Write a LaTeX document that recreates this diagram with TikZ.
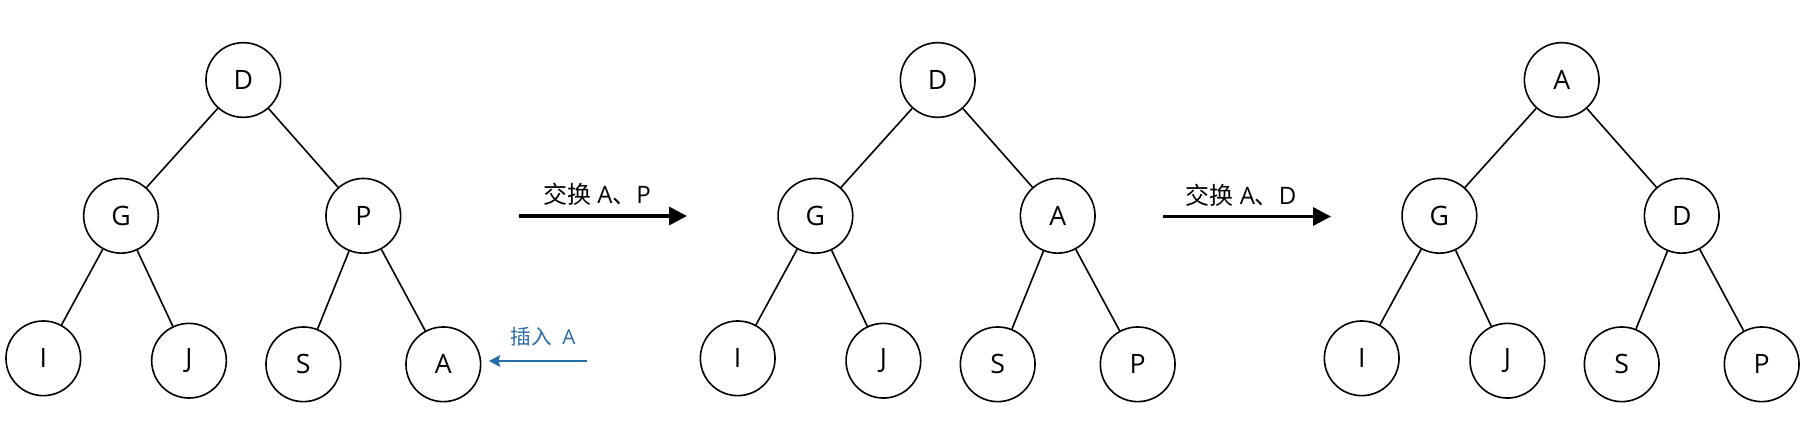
\documentclass[tikz,border=0pt]{standalone}
\usepackage{fontspec}
\setmainfont{Open Sans}
\newfontfamily\cjk{Noto Sans CJK SC}
\usetikzlibrary{arrows.meta}
\definecolor{insblue}{RGB}{40,108,168}
\tikzset{
  tnode/.style={circle,draw,line width=1.2pt,minimum size=56pt,inner sep=0pt,
    font=\fontsize{20}{20}\selectfont},
  tedge/.style={line width=1.2pt},
  steparrow/.style={line width=2.5pt,-{Triangle[length=13.5pt,width=13.5pt]}},
  steplabel/.style={font=\fontsize{18}{20}\selectfont},
  inslabel/.style={text=insblue,font=\fontsize{15.5}{18}\selectfont},
  insarrow/.style={draw=insblue,line width=1pt,-{Stealth[length=8.5pt,width=9pt,inset=1.5pt]}},
}
\newcommand\heaptree[9]{%
  \begin{scope}[shift={(#2,0)}]
    \node[tnode] (#1r)  at (243.3,80)    {#3};
    \node[tnode] (#1l)  at (121,215.8)   {#4};
    \node[tnode] (#1t)  at (363.3,215.8) {#5};
    \node[tnode] (#1ll) at (43.3,358.3)  {#6};
    \node[tnode] (#1lr) at (189,360.7)   {#7};
    \node[tnode] (#1tl) at (303.3,364.3) {#8};
    \node[tnode] (#1tr) at (443.3,364.3) {#9};
    \draw[tedge] (#1r) -- (#1l);
    \draw[tedge] (#1r) -- (#1t);
    \draw[tedge] (#1l) -- (#1ll);
    \draw[tedge] (#1l) -- (#1lr);
    \draw[tedge] (#1t) -- (#1tl);
    \draw[tedge] (#1t) -- (#1tr);
  \end{scope}}
\begin{document}
\begin{tikzpicture}[x=0.75pt,y=-0.75pt]
  \useasboundingbox (0,0) rectangle (1808,436);
  \heaptree{a}{0}{D}{G}{P}{I}{J}{S}{A}
  \heaptree{b}{694.4}{D}{G}{A}{I}{J}{S}{P}
  \heaptree{c}{1318.4}{A}{G}{D}{I}{J}{S}{P}
  % step arrows
  \coordinate (s1a) at (519,216);
  \coordinate (s1b) at (687,216);
  \draw[steparrow] (s1a) -- (s1b);
  \node[steplabel] (l1) at (597,194) {{\cjk 交换} A{\cjk 、}P};
  \coordinate (s2a) at (1163,216.5);
  \coordinate (s2b) at (1331,216.5);
  \draw[steparrow] (s2a) -- (s2b);
  \node[steplabel] (l2) at (1241,195) {{\cjk 交换} A{\cjk 、}D};
  % insert arrow
  \coordinate (ins) at (587,361);
  \coordinate (inst) at (489,361);
  \draw[insarrow] (ins) -- (inst);
  \node[inslabel] (il) at (543,337) {{\cjk 插入}\hspace{0.5em}A};
\end{tikzpicture}
\end{document}
